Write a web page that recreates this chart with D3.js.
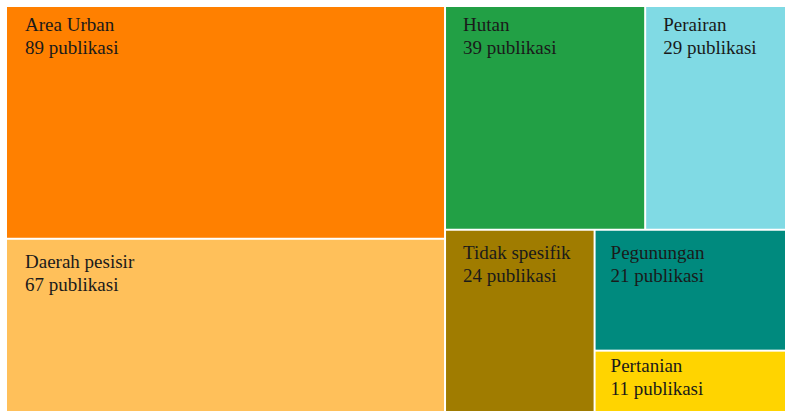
<!DOCTYPE html>
<html><head><meta charset="utf-8">
<script src="https://cdn.jsdelivr.net/npm/d3@7"></script>
<style>body{margin:0;background:#fff}svg{display:block}</style>
</head><body>
<svg id="c" width="785" height="411"></svg>
<script>
const categories = ["Area Urban","Daerah pesisir","Hutan","Perairan","Tidak spesifik","Pegunungan","Pertanian"];
const values = [89,67,39,29,24,21,11];
const unitLabel = "publikasi";
const colors = ["#FF8000","#FFC05A","#22A045","#80DAE4","#A07C00","#008A7E","#FFD400"];

const svg = d3.select("#c");
const x0 = 7, y0 = 7, W = 788, H = 408;
const root = d3.hierarchy({children: categories.map((c,i)=>({name:c,value:values[i],i}))})
  .sum(d=>d.value||0).sort((a,b)=>b.value-a.value);
d3.treemap().tile(d3.treemapSquarify.ratio(1.55)).size([W,H]).round(false)(root);

const g = svg.append("g").attr("transform",`translate(${x0},${y0})`);
const cell = g.selectAll("g").data(root.leaves()).join("g")
  .attr("transform",d=>`translate(${d.x0},${d.y0})`);
cell.append("rect")
  .attr("x",0).attr("y",0)
  .attr("width",d=>Math.max(0,d.x1-d.x0-2)).attr("height",d=>Math.max(0,d.y1-d.y0-2))
  .attr("fill",d=>colors[d.data.i]);
const dx = d => d.x1-d.x0 > 300 ? 18 : (d.x0 > 560 && d.y0 > 100 ? 15 : 17);
const dy = d => (d.y1-d.y0) < 80 ? 20 : (d.y0 > 100 ? 28 : 24);
const t = cell.append("text")
  .attr("font-family","'Liberation Serif','Times New Roman',serif")
  .attr("font-size","19px")
  .attr("fill","#1a1a1a");
t.append("tspan").attr("x",dx).attr("y",dy).text(d=>d.data.name);
t.append("tspan").attr("x",dx).attr("y",d=>dy(d)+23).text(d=>d.data.value+" "+unitLabel);
</script>
</body></html>
